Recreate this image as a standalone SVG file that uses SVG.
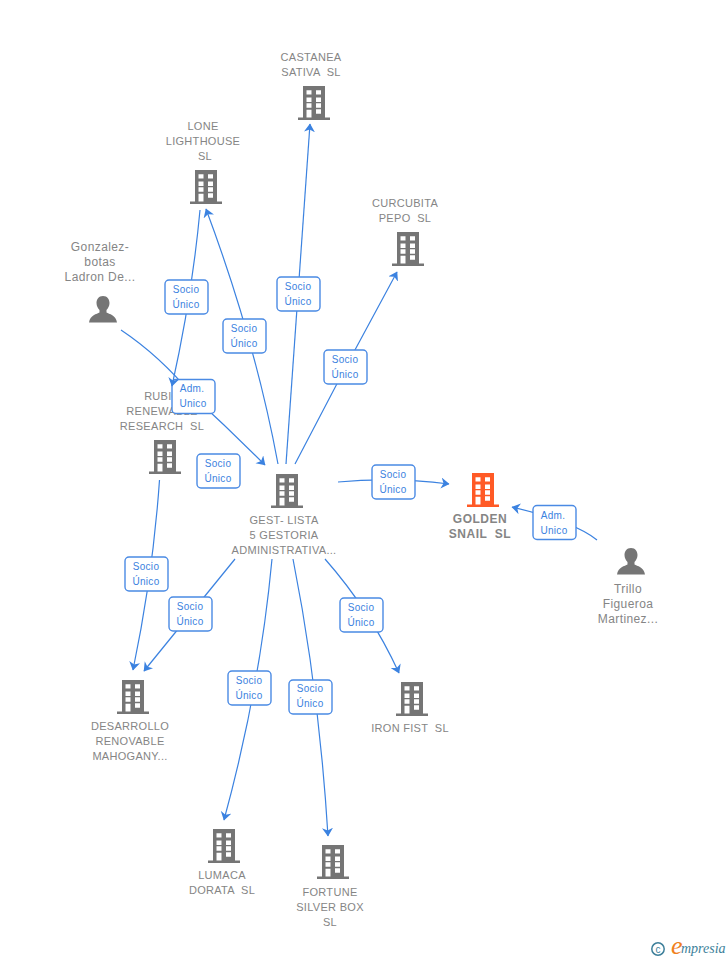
<svg xmlns="http://www.w3.org/2000/svg" width="728" height="960" viewBox="0 0 728 960">
<style>
.n{font:11px "Liberation Sans",Arial,sans-serif;fill:#858585;text-anchor:middle;letter-spacing:.3px;white-space:pre}
.p{font-size:12px;letter-spacing:.4px}
.g{font-weight:bold;font-size:12px;letter-spacing:.5px}
.e{fill:none;stroke:#3b82e0;stroke-width:1.2;marker-end:url(#a)}
.b{fill:#fff;stroke:#4a8ae4;stroke-width:1.4}
.t{font:10px "Liberation Sans",Arial,sans-serif;fill:#3b82e0;text-anchor:middle;letter-spacing:.3px}
</style>
<defs>
<marker id="a" markerUnits="userSpaceOnUse" markerWidth="12" markerHeight="12" refX="8" refY="5.500" orient="auto"><path d="M0,0L8.500,5.500L0,11L2.500,5.500Z" fill="#3b82e0"/></marker>
<g id="bd"><path fill-rule="evenodd" d="M5,0H27V31.500H32V34H0V31.500H5ZM8.500,4.300V8.500H13.500V4.300ZM18,4.300V8.500H23V4.300ZM8.500,11.600V16H13.500V11.600ZM18,11.600V16H23V11.600ZM8.500,17.300V21.700H13.500V17.300ZM18,17.300V21.700H23V17.300ZM8.500,23.700V31.500H13.500V23.700ZM18,23.300V27.700H23V23.300Z"/></g>
<g id="pr"><path d="M14,0C9.500,0,7.500,3.500,7.500,7C7.500,10,9,12.500,10.500,14V16.500C8,18,1,19,0,26.500H28C27,19,20,18,17.500,16.500V14C19,12.500,20.500,10,20.500,7C20.500,3.500,18.500,0,14,0Z"/></g>
</defs>
<g id="n-castanea" fill="#757575"><use href="#bd" x="298" y="86"/><text class="n"><tspan x="311" y="61">CASTANEA</tspan><tspan x="311" y="76">SATIVA  SL</tspan></text></g>
<g id="n-lone" fill="#757575"><use href="#bd" x="190" y="170"/><text class="n"><tspan x="203" y="130">LONE</tspan><tspan x="203" y="145">LIGHTHOUSE</tspan><tspan x="205" y="160">SL</tspan></text></g>
<g id="n-curcubita" fill="#757575"><use href="#bd" x="392" y="232"/><text class="n"><tspan x="405" y="207">CURCUBITA</tspan><tspan x="405" y="222">PEPO  SL</tspan></text></g>
<g id="n-gonzalez" fill="#757575"><use href="#pr" x="89" y="296"/><text class="n p"><tspan x="100" y="251">Gonzalez-</tspan><tspan x="100" y="266">botas</tspan><tspan x="100" y="281">Ladron De...</tspan></text></g>
<g id="n-rubic" fill="#757575"><use href="#bd" x="149" y="440"/><text class="n"><tspan x="162" y="400">RUBIC</tspan><tspan x="162" y="415">RENEWABLE</tspan><tspan x="162" y="430">RESEARCH  SL</tspan></text></g>
<g id="n-gest" fill="#757575"><use href="#bd" x="271" y="474"/><text class="n"><tspan x="284" y="524">GEST- LISTA</tspan><tspan x="284" y="539">5 GESTORIA</tspan><tspan x="284" y="554">ADMINISTRATIVA...</tspan></text></g>
<g id="n-golden" fill="#ff5a26"><use href="#bd" x="467" y="473"/><text class="n g"><tspan x="480" y="523">GOLDEN</tspan><tspan x="480" y="538">SNAIL  SL</tspan></text></g>
<g id="n-trillo" fill="#757575"><use href="#pr" x="617" y="548"/><text class="n p"><tspan x="628" y="593">Trillo</tspan><tspan x="628" y="608">Figueroa</tspan><tspan x="628" y="623">Martinez...</tspan></text></g>
<g id="n-desarrollo" fill="#757575"><use href="#bd" x="117" y="680"/><text class="n"><tspan x="130" y="730">DESARROLLO</tspan><tspan x="130" y="745">RENOVABLE</tspan><tspan x="130" y="760">MAHOGANY...</tspan></text></g>
<g id="n-iron" fill="#757575"><use href="#bd" x="396" y="682"/><text class="n"><tspan x="410" y="732">IRON FIST  SL</tspan></text></g>
<g id="n-lumaca" fill="#757575"><use href="#bd" x="208" y="829"/><text class="n"><tspan x="222" y="879">LUMACA</tspan><tspan x="222" y="894">DORATA  SL</tspan></text></g>
<g id="n-fortune" fill="#757575"><use href="#bd" x="317" y="845"/><text class="n"><tspan x="330" y="896">FORTUNE</tspan><tspan x="330" y="911">SILVER BOX</tspan><tspan x="330" y="926">SL</tspan></text></g>
<g id="connectors">
<path class="e" d="M286,464Q298,300 310,124"/>
<path class="e" d="M278,464Q255,340 206,209"/>
<path class="e" d="M295,464Q345,367 397,272"/>
<path class="e" d="M338,482Q393,477 449,484"/>
<path class="e" d="M597,540Q575,522 512,507"/>
<path class="e" d="M121,330Q160,356 193,396Q230,430 265,465"/>
<rect class="b" x="172" y="379.500" width="43" height="34" rx="4"/><text class="t"><tspan x="192" y="392">Adm.</tspan><tspan x="193" y="407">Unico</tspan></text>
<path class="e" d="M200,210Q192,296 172,386"/>
<path class="e" d="M159.500,480Q153,574 133,670"/>
<path class="e" d="M235,559Q190,614 144,671"/>
<path class="e" d="M272,559Q260,688 224,820"/>
<path class="e" d="M293,559Q319,690 328,836"/>
<path class="e" d="M325,559Q370,610 399,673"/>
<rect class="b" x="277" y="277" width="43" height="34" rx="4"/><text class="t"><tspan x="298" y="290">Socio</tspan><tspan x="298" y="305">Único</tspan></text>
<rect class="b" x="165" y="280" width="43" height="34" rx="4"/><text class="t"><tspan x="186" y="293">Socio</tspan><tspan x="186" y="308">Único</tspan></text>
<rect class="b" x="223" y="319" width="43" height="34" rx="4"/><text class="t"><tspan x="244" y="332">Socio</tspan><tspan x="244" y="347">Único</tspan></text>
<rect class="b" x="324" y="350" width="43" height="34" rx="4"/><text class="t"><tspan x="345" y="363">Socio</tspan><tspan x="345" y="378">Único</tspan></text>
<rect class="b" x="197" y="454" width="43" height="34" rx="4"/><text class="t"><tspan x="218" y="467">Socio</tspan><tspan x="218" y="482">Único</tspan></text>
<rect class="b" x="372" y="465" width="43" height="34" rx="4"/><text class="t"><tspan x="393" y="478">Socio</tspan><tspan x="393" y="493">Único</tspan></text>
<rect class="b" x="533" y="505.500" width="43" height="34" rx="4"/><text class="t"><tspan x="553" y="519">Adm.</tspan><tspan x="554" y="534">Unico</tspan></text>
<rect class="b" x="125" y="557" width="43" height="34" rx="4"/><text class="t"><tspan x="146" y="570">Socio</tspan><tspan x="146" y="585">Único</tspan></text>
<rect class="b" x="169" y="597" width="43" height="34" rx="4"/><text class="t"><tspan x="190" y="610">Socio</tspan><tspan x="190" y="625">Único</tspan></text>
<rect class="b" x="340" y="598" width="43" height="34" rx="4"/><text class="t"><tspan x="361" y="611">Socio</tspan><tspan x="361" y="626">Único</tspan></text>
<rect class="b" x="228" y="671" width="43" height="34" rx="4"/><text class="t"><tspan x="249" y="684">Socio</tspan><tspan x="249" y="699">Único</tspan></text>
<rect class="b" x="289" y="680" width="43" height="34" rx="4"/><text class="t"><tspan x="310" y="692">Socio</tspan><tspan x="310" y="707">Único</tspan></text>
</g>
<g id="logo">
<circle cx="658" cy="949" r="6.200" fill="none" stroke="#3d7f9a" stroke-width="1.500"/>
<text x="658" y="952.500" font-family="Liberation Sans,sans-serif" font-size="10" fill="#3d7f9a" text-anchor="middle">c</text>
<text x="671" y="954" font-family="Liberation Serif,serif" font-style="italic" font-size="26" fill="#f08020">e</text>
<text x="681" y="953" font-family="Liberation Serif,serif" font-style="italic" font-size="14" fill="#3d7f9a">mpresia</text>
</g>
</svg>
